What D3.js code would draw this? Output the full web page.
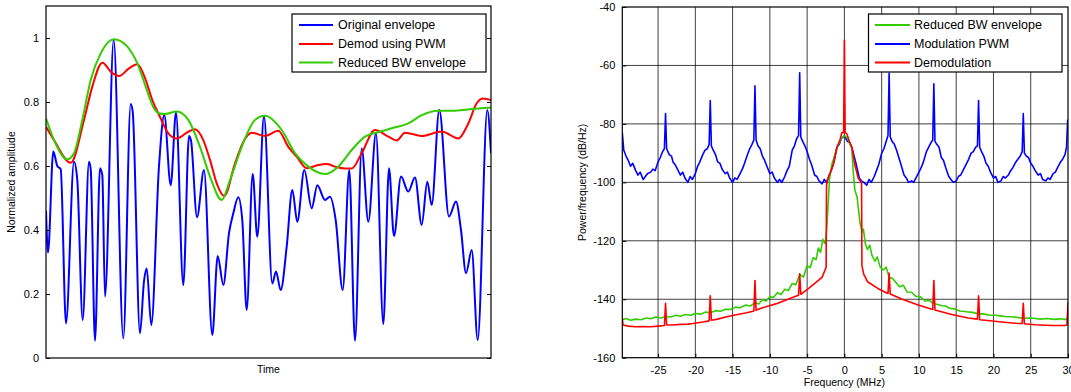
<!DOCTYPE html>
<html><head><meta charset="utf-8">
<script src="https://cdn.jsdelivr.net/npm/d3@7"></script>
<style>
body{margin:0;background:#fff;}
svg{display:block;font-family:Arial,"Liberation Sans",sans-serif;}
</style></head>
<body><svg id="c" width="1071" height="392"></svg>
<script>
// ---------- Left chart data: time (arbitrary units) vs normalized amplitude ----------
const leftTicks = [0, 0.2, 0.4, 0.6, 0.8, 1];
const leftLegend = ["Original envelope", "Demod using PWM", "Reduced BW envelope"];
const originalEnvelope = [
 [0,0.46],[2,0.33],[7.3,0.645],[11.3,0.60],[14.7,0.59],[20,0.108],[28,0.613],[31.3,0.556],[36.7,0.119],
 [43,0.613],[44.7,0.59],[49,0.054],[54,0.593],[56.3,0.572],[59,0.192],[67.7,0.995],[77.3,0.061],
 [84.7,0.794],[86.7,0.77],[94,0.077],[98,0.24],[100.7,0.28],[105.3,0.103],[113,0.60],[118.3,0.759],
 [124.7,0.54],[130,0.767],[137.3,0.228],[143,0.694],[145,0.68],[151,0.44],[158,0.5875],[166.3,0.072],
 [171.7,0.319],[177.3,0.228],[183,0.39],[187.3,0.452],[192.3,0.502],[196.3,0.43],[200.7,0.15],
 [206.7,0.575],[211.3,0.379],[218,0.756],[226.3,0.233],[230,0.27],[234.7,0.2125],[240.7,0.348],
 [246.3,0.525],[251.3,0.426],[258.3,0.5875],[265.7,0.468],[271.3,0.54],[279,0.494],[284,0.504],
 [289.7,0.431],[296.7,0.2125],[303.3,0.5875],[309,0.054],[315.7,0.655],[322.3,0.426],[330,0.702],
 [337.3,0.106],[343,0.593],[348,0.381],[355,0.567],[362.3,0.52],[369,0.564],[375.7,0.416],[381.3,0.551],
 [385.7,0.478],[393.3,0.775],[403,0.442],[410,0.489],[415,0.4],[420,0.265],[425.7,0.3375],[431.7,0.056],
 [441.3,0.775],[445,0.64]
];
const demodPWM = [
 [0,0.723],[8,0.681],[24.7,0.61],[38,0.744],[46.3,0.848],[56.3,0.923],[66.3,0.89],[73,0.881],[83,0.905],
 [91.3,0.918],[99.7,0.869],[106.3,0.806],[113,0.76],[122.3,0.702],[130.7,0.686],[142.3,0.707],[149,0.715],
 [157.3,0.681],[164,0.619],[170.7,0.546],[178.3,0.506],[189,0.608],[198.3,0.681],[205.7,0.704],[219,0.694],
 [232.3,0.71],[242.3,0.66],[250.7,0.629],[260.7,0.593],[272.3,0.603],[280.7,0.606],[289,0.598],[299,0.592],
 [305.7,0.592],[315.7,0.64],[329,0.7125],[342.3,0.692],[350.7,0.68],[359,0.704],[375.7,0.694],[395.7,0.708],
 [412.3,0.686],[422.3,0.733],[430.7,0.796],[437.3,0.811],[445,0.806]
];
const reducedBW = [
 [0,0.749],[8,0.681],[21.3,0.621],[28,0.64],[36.3,0.744],[44.7,0.869],[54.7,0.952],[68,0.996],[81.3,0.973],
 [91.3,0.921],[99.7,0.848],[108,0.78],[113,0.765],[119,0.7625],[130.7,0.77],[142.3,0.744],[154,0.66],
 [164,0.567],[175.7,0.494],[184,0.556],[195.7,0.66],[209,0.744],[219,0.757],[235.7,0.7125],[249,0.64],
 [262.3,0.598],[279,0.575],[292.3,0.598],[305.7,0.65],[319,0.692],[334,0.707],[345.7,0.718],[362.3,0.733],
 [375.7,0.759],[392.3,0.773],[409,0.773],[429,0.779],[445,0.783]
];

// ---------- Right chart data: frequency (MHz) vs power/frequency (dB/Hz) ----------
const rightYTicks = [-160, -140, -120, -100, -80, -60, -40];
const rightXTicks = [-25, -20, -15, -10, -5, 0, 5, 10, 15, 20, 25, 30];
const rightLegend = ["Reduced BW envelope", "Modulation PWM", "Demodulation"];
const modulationPWM = [
 [-29.8,-83],[-29.6,-89],[-29.3,-91],[-29,-92.5],[-28.7,-94.5],[-28.4,-93.5],[-28,-96],[-27.7,-97.5],[-27.4,-96.5],[-27,-99],
 [-26.7,-98],[-26.4,-97],[-26,-96.5],[-25.7,-95.5],[-25.4,-96],[-25,-93],[-24.7,-91.5],[-24.4,-89.5],[-24.15,-88.5],[-24,-76.5],
 [-23.85,-88.5],[-23.5,-90.5],[-23.2,-91],[-23,-93],[-22.7,-94],[-22.4,-95.5],[-22,-97.5],[-21.7,-96.5],[-21.4,-98.5],[-21,-100],
 [-20.7,-98],[-20.4,-99],[-20,-97],[-19.7,-94.5],[-19.4,-93],[-19,-90.5],[-18.7,-89],[-18.4,-88.5],[-18.15,-87],[-18,-72],
 [-17.85,-87.5],[-17.6,-89],[-17.3,-90.5],[-17,-93],[-16.7,-93.5],[-16.4,-95.5],[-16,-97],[-15.7,-96.5],[-15.4,-98.5],[-15,-100],
 [-14.7,-98.5],[-14.4,-99],[-14,-97],[-13.7,-95.5],[-13.4,-93.5],[-13,-90.5],[-12.7,-88.5],[-12.4,-87],[-12.15,-85.5],[-12,-67],
 [-11.85,-85.5],[-11.6,-87.5],[-11.3,-88.5],[-11,-91],[-10.7,-92.5],[-10.4,-94.5],[-10,-97],[-9.7,-96.5],[-9.4,-98.5],[-9,-100],
 [-8.7,-99],[-8.4,-100],[-8,-98],[-7.7,-96],[-7.4,-94.5],[-7,-89],[-6.7,-87.5],[-6.4,-85],[-6.15,-84],[-6,-62.5],
 [-5.85,-84.5],[-5.6,-86],[-5.3,-87.5],[-5,-89.5],[-4.7,-92],[-4.4,-94],[-4,-97.5],[-3.7,-98],[-3.4,-99.5],[-3,-100.5],
 [-2.7,-99],[-2.4,-100],[-2,-97.5],[-1.7,-95.5],[-1.4,-93],[-1,-88],[-0.7,-87],[-0.4,-85],[0,-84],[0.4,-86],
 [0.7,-86.5],[1,-88],[1.3,-91],[1.6,-94],[2,-98.5],[2.3,-99.5],[2.6,-100],[3,-101],[3.3,-99],[3.6,-100],
 [4,-98],[4.3,-96],[4.6,-94],[5,-90],[5.3,-88.5],[5.6,-86],[5.85,-84],[6,-62.6],[6.15,-84.5],[6.4,-86],
 [6.7,-87],[7,-89],[7.3,-91.5],[7.6,-94],[8,-97.5],[8.3,-98.5],[8.6,-100],[9,-99.5],[9.3,-100],[9.6,-98.5],
 [10,-96.5],[10.3,-95],[10.6,-93],[11,-89.5],[11.3,-88],[11.6,-86.5],[11.85,-85.5],[12,-66.3],[12.15,-86],[12.4,-87],
 [12.7,-88],[13,-91.5],[13.3,-92.5],[13.6,-95],[14,-98],[14.3,-99],[14.6,-100],[15,-99.5],[15.3,-98],[15.6,-97.5],
 [16,-95.5],[16.3,-94],[16.6,-92.5],[17,-90],[17.3,-89.5],[17.6,-88],[17.85,-87.5],[18,-72],[18.15,-88],[18.4,-89.5],
 [18.7,-91],[19,-93.5],[19.3,-94.5],[19.6,-96.5],[20,-98.5],[20.3,-98],[20.6,-100],[21,-99.5],[21.3,-98],[21.6,-98.5],
 [22,-97.5],[22.3,-96],[22.6,-95],[23,-93],[23.3,-92],[23.6,-91],[23.85,-89.5],[24,-76.5],[24.15,-90],[24.4,-91],
 [24.7,-91.5],[25,-93.5],[25.3,-94.5],[25.6,-96],[26,-97.5],[26.3,-97],[26.6,-99],[27,-99.5],[27.3,-98.5],[27.6,-99],
 [28,-97],[28.3,-96.5],[28.6,-95],[29,-93],[29.3,-92],[29.6,-90.5],[29.8,-88],[29.95,-79],[30,-78.5]
];
const reducedBWSpectrum = [
 [-29.8,-147],[-29.3,-146.6],[-28.7,-147.2],[-28,-146.8],[-27.3,-147],[-26.6,-146.4],[-26,-146.7],[-25.3,-146.1],[-24.6,-146.4],
 [-24,-145.9],[-23.3,-146.1],[-22.6,-145.5],[-22,-145.8],[-21.3,-145.2],[-20.6,-145.5],[-20,-144.9],[-19.3,-145.1],[-18.6,-144.4],
 [-18,-144.6],[-17.3,-143.9],[-16.6,-144.1],[-16,-143.4],[-15.3,-143.5],[-14.6,-142.7],[-14,-142.9],[-13.3,-142.0],[-12.6,-142.3],
 [-12,-141.2],[-11.5,-141.6],[-11,-140.2],[-10.5,-140.6],[-10,-139.2],[-9.5,-139.3],[-9,-137.8],[-8.5,-138.4],[-8,-136.6],
 [-7.5,-137.0],[-7,-134.6],[-6.5,-135.0],[-6,-131.5],[-5.5,-132.4],[-5,-128.5],[-4.6,-129.2],[-4.2,-125.8],[-3.8,-126.4],
 [-3.5,-122.5],[-3.2,-124],[-2.9,-119.5],[-2.6,-121],[-2.4,-117],[-2.2,-108],[-2,-99],[-1.7,-94],[-1.4,-91.5],[-1,-88],
 [-0.6,-86],[-0.3,-84.5],[0,-84],[0.3,-84.5],[0.6,-86],[1,-88.5],[1.2,-97],[1.4,-102.5],[1.7,-105],[2.1,-114],
 [2.4,-117],[2.55,-116],[2.8,-121],[3.1,-123],[3.4,-121.5],[3.7,-125],[4.1,-127],[4.4,-125.5],[4.8,-129],[5.2,-130],
 [5.6,-129],[6,-132.5],[6.5,-133],[7,-134.5],[7.4,-135.7],[7.9,-135.2],[8.4,-137.5],[9,-137.6],[9.6,-139],[10.2,-139.2],
 [10.8,-140.6],[11.4,-140.4],[11.9,-141.4],[12.5,-141.8],[13.1,-142.2],[13.6,-142.3],[14.1,-143.1],[14.8,-143.3],[15.5,-144],
 [16.4,-144.3],[17.2,-144.5],[18,-145],[18.6,-145],[19.5,-145.5],[20.3,-145.5],[20.9,-145.7],[21.8,-146],[22.5,-146],
 [23.1,-146.2],[24,-146.5],[24.8,-146.4],[25.4,-146.5],[26.3,-146.8],[27.2,-146.6],[28.1,-146.9],[29,-146.7],[29.6,-146.9],[30,-146.8]
];
const demodulationSpectrum = [
 [-29.8,-146.5],[-29.7,-148.8],[-29,-149.2],[-28,-149.4],[-27.1,-149.3],[-26,-149.4],[-25,-149.2],[-24.15,-149],[-24,-141.4],
 [-23.85,-148.8],[-23,-148.8],[-22,-148.6],[-21,-148.5],[-20.3,-148.3],[-19,-147.8],[-18.15,-147.4],[-18,-138.8],[-17.85,-147.2],
 [-17,-146.8],[-15.8,-146],[-14.5,-145.3],[-13.1,-144.6],[-12.15,-144],[-12,-133.6],[-11.85,-143.8],[-11.3,-143.2],[-10.2,-142.3],
 [-9.1,-141.5],[-8,-140.4],[-6.8,-139.2],[-6.15,-138.6],[-6,-131.3],[-5.85,-138.3],[-4.8,-136.3],[-3.7,-134],[-3.0,-132.5],
 [-2.6,-130],[-2.45,-129],[-2.4,-101],[-2.2,-98.5],[-1.95,-97],[-1.5,-94],[-1,-88],[-0.6,-85.5],[-0.35,-83],[-0.1,-83],
 [0,-51.3],[0.1,-83],[0.35,-83.5],[0.6,-85.5],[1,-88],[1.4,-94],[1.85,-98.5],[2.1,-99.5],[2.3,-100],[2.35,-128.5],
 [2.6,-131.5],[3.1,-134],[4.5,-136.3],[5.4,-137.5],[5.85,-138],[6,-131],[6.15,-138.2],[7.6,-139.8],[9.9,-142],
 [11.85,-143.5],[12,-133.6],[12.15,-143.7],[14.4,-145.2],[16.6,-146.4],[17.85,-146.8],[18,-138.8],[18.15,-147],
 [18.9,-147.2],[21.1,-147.8],[23.4,-148.3],[23.85,-148.3],[24,-141.4],[24.15,-148.4],[25.6,-148.7],[27.9,-149],
 [29.5,-149],[29.85,-148.8],[30,-141]
];

// ---------- Drawing ----------
const svg = d3.select("#c");
const BLUE = "#0000ff", RED = "#ff0000", GREEN = "#33cc00";
const FONT = "Arial, 'Liberation Sans', sans-serif";
const plainNum = d => String(+d.toFixed(2));   // ASCII hyphen-minus like the reference

// Left chart
const L = {x0: 46, x1: 491, y0: 6, y1: 358};
const xL = d3.scaleLinear().domain([0, 445]).range([L.x0, L.x1]);
const yL = d3.scaleLinear().domain([0, 1.1]).range([L.y1, L.y0]);
const gL = svg.append("g");
gL.append("defs").append("clipPath").attr("id","clipL").append("rect")
  .attr("x", L.x0).attr("y", L.y0).attr("width", L.x1 - L.x0).attr("height", L.y1 - L.y0);

const lineL = d3.line().x(d => xL(d[0])).y(d => yL(d[1])).curve(d3.curveMonotoneX);
const plotL = gL.append("g").attr("clip-path","url(#clipL)");
[[originalEnvelope, BLUE],[demodPWM, RED],[reducedBW, GREEN]].forEach(([data, col]) => {
  plotL.append("path").attr("d", lineL(data)).attr("fill","none").attr("stroke", col)
    .attr("stroke-width", 2).attr("stroke-linejoin","round");
});
const axL = d3.axisLeft(yL).tickValues(leftTicks).tickSizeInner(-4).tickSizeOuter(0).tickPadding(7)
  .tickFormat(plainNum);
const gAxL = gL.append("g").attr("transform", `translate(${L.x0},0)`).call(axL);
const axR = d3.axisRight(yL).tickValues(leftTicks).tickSizeInner(-4).tickSizeOuter(0).tickFormat("");
const gAxR = gL.append("g").attr("transform", `translate(${L.x1},0)`).call(axR);
[gAxL, gAxR].forEach(g => { g.select(".domain").remove(); g.selectAll("line").attr("stroke","#000"); });
gAxL.selectAll("text").attr("font-size", 11).attr("font-family", FONT).attr("fill","#000");
gL.append("rect").attr("x", L.x0).attr("y", L.y0).attr("width", L.x1 - L.x0).attr("height", L.y1 - L.y0)
  .attr("fill","none").attr("stroke","#000").attr("stroke-width",1.2);
gL.append("text").attr("x", (L.x0 + L.x1) / 2).attr("y", 373).attr("text-anchor","middle")
  .attr("font-size", 10.5).attr("font-family", FONT).text("Time");
gL.append("text").attr("transform", `translate(15,${(L.y0 + L.y1) / 2}) rotate(-90)`).attr("text-anchor","middle")
  .attr("font-size", 10.5).attr("font-family", FONT).text("Normalized amplitude");

function legend(g, x, y, w, h, items, colors, lineX0, lineX1, textX, rows) {
  g.append("rect").attr("x", x).attr("y", y).attr("width", w).attr("height", h)
    .attr("fill","#fff").attr("stroke","#000").attr("stroke-width",1.2);
  items.forEach((t, i) => {
    g.append("line").attr("x1", lineX0).attr("x2", lineX1).attr("y1", rows[i]).attr("y2", rows[i])
      .attr("stroke", colors[i]).attr("stroke-width", 2);
    g.append("text").attr("x", textX).attr("y", rows[i]).attr("dy","0.35em")
      .attr("font-size", 12.5).attr("font-family", FONT).text(t);
  });
}
legend(gL, 292, 14, 194, 58, leftLegend, [BLUE, RED, GREEN], 299, 333, 338, [25, 44, 62.5]);

// Right chart
const R = {x0: 622.3, x1: 1068, y0: 7, y1: 357.7};
const xR = d3.scaleLinear().domain([-29.8, 30]).range([R.x0, R.x1]);
const yR = d3.scaleLinear().domain([-160, -40]).range([R.y1, R.y0]);
const gR = svg.append("g");
gR.append("defs").append("clipPath").attr("id","clipR").append("rect")
  .attr("x", R.x0).attr("y", R.y0).attr("width", R.x1 - R.x0).attr("height", R.y1 - R.y0);
gR.append("g").selectAll("line").data(rightXTicks.filter(d => d < 30)).join("line")
  .attr("x1", d => xR(d)).attr("x2", d => xR(d)).attr("y1", R.y0).attr("y2", R.y1)
  .attr("stroke","#000").attr("stroke-opacity",0.75).attr("stroke-width",1);
gR.append("g").selectAll("line").data(rightYTicks.filter(d => d > -160 && d < -40)).join("line")
  .attr("x1", R.x0).attr("x2", R.x1).attr("y1", d => yR(d)).attr("y2", d => yR(d))
  .attr("stroke","#000").attr("stroke-opacity",0.75).attr("stroke-width",1);

const lineR = d3.line().x(d => xR(d[0])).y(d => yR(d[1]));
const plotR = gR.append("g").attr("clip-path","url(#clipR)");
[[modulationPWM, BLUE],[reducedBWSpectrum, GREEN],[demodulationSpectrum, RED]].forEach(([data, col]) => {
  plotR.append("path").attr("d", lineR(data)).attr("fill","none").attr("stroke", col)
    .attr("stroke-width", 1.6).attr("stroke-linejoin","round");
});
const axRY = d3.axisLeft(yR).tickValues(rightYTicks).tickSizeInner(-4).tickSizeOuter(0).tickPadding(7).tickFormat(plainNum);
const gRY = gR.append("g").attr("transform", `translate(${R.x0},0)`).call(axRY);
const axRX = d3.axisBottom(xR).tickValues(rightXTicks).tickSizeInner(-4).tickSizeOuter(0).tickPadding(9).tickFormat(plainNum);
const gRX = gR.append("g").attr("transform", `translate(0,${R.y1})`).call(axRX);
[gRY, gRX].forEach(g => {
  g.select(".domain").remove(); g.selectAll("line").attr("stroke","#000");
  g.selectAll("text").attr("font-size", 11).attr("font-family", FONT).attr("fill","#000");
});
gR.append("rect").attr("x", R.x0).attr("y", R.y0).attr("width", R.x1 - R.x0).attr("height", R.y1 - R.y0)
  .attr("fill","none").attr("stroke","#000").attr("stroke-width",1.2);
gR.append("text").attr("x", xR(0)).attr("y", 386).attr("text-anchor","middle")
  .attr("font-size", 10.5).attr("font-family", FONT).text("Frequency (MHz)");
gR.append("text").attr("transform", `translate(586,${(R.y0 + R.y1) / 2}) rotate(-90)`).attr("text-anchor","middle")
  .attr("font-size", 10.5).attr("font-family", FONT).text("Power/frequency (dB/Hz)");
legend(gR, 868.5, 14, 193.5, 58, rightLegend, [GREEN, BLUE, RED], 875, 910, 914, [25, 44, 62.5]);
</script></body></html>
